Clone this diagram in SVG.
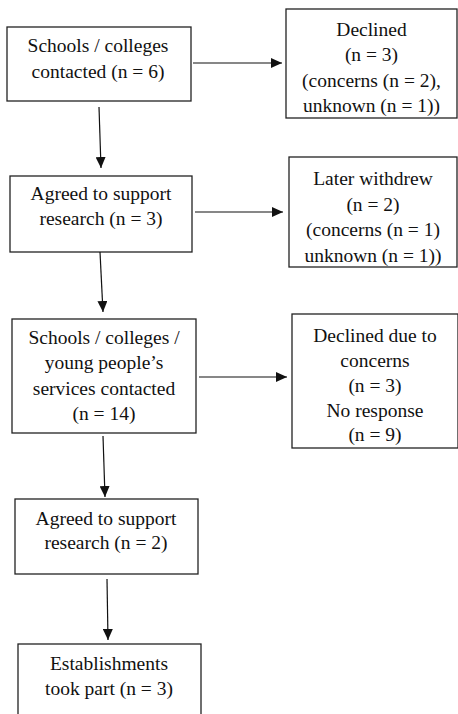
<svg xmlns="http://www.w3.org/2000/svg" width="458" height="714" viewBox="0 0 458 714">
<style>
rect{fill:#fff;stroke:#222;stroke-width:1.3}
text{font-family:'Liberation Serif','DejaVu Serif',serif;font-size:19.5px;fill:#111;text-anchor:middle}
.c line{stroke:#111;stroke-width:1.2;marker-end:url(#ah)}
</style>
<defs>
<marker id="ah" markerWidth="11" markerHeight="10" refX="11" refY="5" orient="auto" markerUnits="userSpaceOnUse">
<path d="M0,0 L11,5 L0,10 Z" fill="#111"/>
</marker>
</defs>
<rect width="458" height="714" style="stroke:none"/>
<g id="n1"><rect x="7" y="27" width="184" height="74"/>
<text x="98" y="52">Schools / colleges</text><text x="98" y="78">contacted (n = 6)</text></g>
<g id="n2"><rect x="286" y="9" width="171" height="109"/>
<text x="371.5" y="35.5">Declined</text><text x="371.5" y="61">(n = 3)</text><text x="371.5" y="86.5">(concerns (n = 2),</text><text x="371.5" y="112">unknown (n = 1))</text></g>
<g id="n3"><rect x="10" y="176" width="182" height="76"/>
<text x="101" y="200">Agreed to support</text><text x="101" y="225">research (n = 3)</text></g>
<g id="n4"><rect x="289" y="157" width="168" height="110"/>
<text x="373" y="185">Later withdrew</text><text x="373" y="210.5">(n = 2)</text><text x="373" y="236">(concerns (n = 1)</text><text x="373" y="261.5">unknown (n = 1))</text></g>
<g id="n5"><rect x="12" y="319" width="184" height="114"/>
<text x="104" y="344">Schools / colleges /</text><text x="104" y="369">young people’s</text><text x="104" y="394.5">services contacted</text><text x="104" y="420">(n = 14)</text></g>
<g id="n6"><rect x="292" y="314" width="166" height="134"/>
<text x="375" y="342">Declined due to</text><text x="375" y="367">concerns</text><text x="375" y="392">(n = 3)</text><text x="375" y="416.5">No response</text><text x="375" y="441">(n = 9)</text></g>
<g id="n7"><rect x="15" y="499" width="183" height="75"/>
<text x="106" y="525">Agreed to support</text><text x="106" y="549">research (n = 2)</text></g>
<g id="n8"><rect x="18" y="644" width="183" height="80"/>
<text x="109" y="670">Establishments</text><text x="109" y="695">took part (n = 3)</text></g>
<g class="c" id="connectors">
<line x1="193" y1="63" x2="282" y2="63"/>
<line x1="99" y1="107" x2="101" y2="168"/>
<line x1="195" y1="212" x2="283" y2="212"/>
<line x1="100" y1="252" x2="103" y2="312"/>
<line x1="199" y1="377" x2="287" y2="377"/>
<line x1="103" y1="436" x2="105" y2="497"/>
<line x1="107" y1="579" x2="108" y2="640"/>
</g>
</svg>
